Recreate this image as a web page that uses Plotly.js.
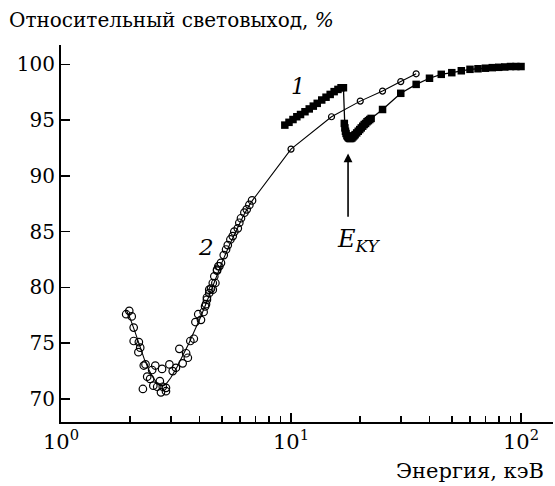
<!DOCTYPE html>
<html>
<head>
<meta charset="utf-8">
<script src="https://cdn.plot.ly/plotly-3.0.1.min.js"></script>
<style>
html,body{margin:0;padding:0;background:#fff;}
#chart{width:555px;height:486px;}
</style>
</head>
<body>
<div id="chart"></div>
<script>
// Series 1: filled squares (energy, keV ; relative light yield, %)
const energy1 = [9.4, 9.8, 10.2, 10.6, 11.0, 11.5, 12.0, 12.5, 13.0, 13.6, 14.2, 14.8, 15.4, 16.0, 16.5, 16.9,
  17.05, 17.15, 17.25, 17.35, 17.5, 17.65, 17.8, 18.0, 18.2, 18.4, 18.6, 18.8, 19.0, 19.3, 19.6, 19.9,
  20.2, 20.5, 20.8, 21.1, 21.4, 21.7, 22.0, 22.3, 25, 30, 35, 40, 45, 50, 55, 60, 65, 70, 75, 80, 85, 90, 95, 100];
const yield1 = [94.55, 94.8, 95.05, 95.3, 95.5, 95.75, 96.0, 96.25, 96.5, 96.8, 97.05, 97.3, 97.55, 97.75, 97.9, 97.9,
  94.7, 94.3, 94.0, 93.8, 93.6, 93.5, 93.4, 93.35, 93.35, 93.4, 93.5, 93.6, 93.7, 93.85, 94.0, 94.15,
  94.3, 94.45, 94.6, 94.7, 94.85, 94.95, 95.05, 95.15, 95.95, 97.4, 98.2, 98.75, 99.1, 99.25, 99.42, 99.55, 99.6, 99.65, 99.7, 99.73, 99.76, 99.8, 99.8, 99.8];

// Series 2: open circles, low-energy scattered measurements
const energy2 = [1.92, 1.98, 2.03, 2.07, 2.07, 2.18, 2.21, 2.17, 2.29, 2.33, 2.49, 2.57, 2.37, 2.44, 2.27, 2.52, 2.62, 2.69, 2.75, 2.77, 2.72, 2.86, 2.86,
  2.96, 3.06, 3.16, 3.27, 3.38, 3.50, 3.56, 3.65, 3.78, 3.84, 3.95, 4.06, 4.17, 4.27, 4.31, 4.41, 4.57, 4.69, 4.77, 4.88, 4.96,
  4.23, 4.31, 4.41, 4.49, 4.57, 4.64, 4.77, 4.83, 5.10, 5.22, 5.31, 5.45, 5.58, 5.67, 5.87, 5.96, 6.06, 6.27, 6.42, 6.59, 6.77];
const yield2 = [77.6, 77.9, 77.4, 76.4, 75.2, 75.1, 74.6, 74.2, 73.0, 73.1, 72.6, 73.0, 72.0, 71.8, 70.9, 71.2, 71.1, 71.6, 72.7, 71.1, 70.6, 71.0, 70.7,
  73.1, 72.5, 72.8, 74.5, 73.2, 74.1, 73.7, 75.2, 75.4, 76.9, 77.6, 77.1, 77.8, 78.5, 79.1, 79.8, 79.8, 80.4, 81.5, 81.9, 82.2,
  78.3, 78.9, 79.5, 79.9, 80.4, 81.0, 81.6, 81.9, 82.9, 83.4, 83.8, 84.3, 84.6, 85.0, 85.3, 85.8, 86.2, 86.7, 87.0, 87.4, 87.8];

// Series 2: open circles at higher energies
const energy2b = [10, 15, 20, 25, 30, 35];
const yield2b = [92.4, 95.3, 96.7, 97.6, 98.45, 99.15];

// Series 2: smooth guide curve through the low-energy data
const curveE = [1.92, 2.0, 2.1, 2.2, 2.3, 2.4, 2.5, 2.6, 2.7, 2.8, 2.9, 3.0, 3.2, 3.4, 3.6, 3.8, 4.0, 4.3, 4.6, 5.0, 5.4, 5.8, 6.2, 6.6, 6.8];
const curveV = [78.0, 77.2, 76.0, 74.7, 73.6, 72.7, 72.0, 71.5, 71.2, 71.2, 71.5, 71.9, 72.9, 74.0, 75.0, 76.1, 77.1, 78.7, 80.3, 82.2, 83.8, 85.2, 86.4, 87.4, 87.8];

const xTickVals = [1, 10, 100];
const xTickText = ['10<sup>0</sup>', '10<sup>1</sup>', '10<sup>2</sup>'];
const xMinorVals = [2, 3, 4, 5, 6, 7, 8, 9, 20, 30, 40, 50, 60, 70, 80, 90];

const serif = 'DejaVu Serif';

const traces = [
  {x: curveE.concat(energy2b), y: curveV.concat(yield2b), mode: 'lines', type: 'scatter',
   line: {color: 'black', width: 1.1}, hoverinfo: 'skip'},
  {x: energy2, y: yield2, mode: 'markers', type: 'scatter',
   marker: {symbol: 'circle-open', size: 7.5, color: 'black', line: {width: 1.2, color: 'black'}}},
  {x: energy2b, y: yield2b, mode: 'markers', type: 'scatter',
   marker: {symbol: 'circle-open', size: 6, color: 'black', line: {width: 1.2, color: 'black'}}},
  {x: energy1, y: yield1, mode: 'lines+markers', type: 'scatter',
   line: {color: 'black', width: 1.3},
   marker: {symbol: 'square', size: 7.5, color: 'black'}}
];

const layout = {
  width: 555, height: 486,
  margin: {l: 61, r: 2, t: 45, b: 64},
  paper_bgcolor: 'white', plot_bgcolor: 'white',
  showlegend: false,
  font: {family: serif, size: 20, color: 'black'},
  xaxis: {
    type: 'log', range: [0, 2.139],
    showline: true, linecolor: 'black', linewidth: 2,
    showgrid: false, zeroline: false,
    tickmode: 'array', tickvals: xTickVals, ticktext: xTickText,
    ticks: 'inside', ticklen: 9, tickwidth: 1.6, tickcolor: 'black',
    minor: {tickmode: 'array', tickvals: xMinorVals, ticks: 'inside', ticklen: 6, tickwidth: 1.6, tickcolor: 'black', showgrid: false},
    tickfont: {family: serif, size: 21, color: 'black'}
  },
  yaxis: {
    range: [67.94, 101.73],
    showline: true, linecolor: 'black', linewidth: 2,
    showgrid: false, zeroline: false,
    tickmode: 'linear', tick0: 70, dtick: 5,
    ticks: 'inside', ticklen: 9, tickwidth: 1.6, tickcolor: 'black',
    tickfont: {family: serif, size: 20, color: 'black'}
  },
  annotations: [
    {xref: 'paper', yref: 'paper', x: -0.11, y: 1.066, xanchor: 'left', yanchor: 'middle',
     text: 'Относительный световыход, <i>%</i>', showarrow: false,
     font: {family: serif, size: 20, color: 'black'}},
    {xref: 'paper', yref: 'paper', x: 0.985, y: -0.13, xanchor: 'right', yanchor: 'middle',
     text: 'Энергия, кэВ', showarrow: false,
     font: {family: serif, size: 21, color: 'black'}},
    {x: Math.log10(10.7), y: 98.0, xref: 'x', yref: 'y', text: '<i>1</i>', showarrow: false,
     font: {family: serif, size: 22, color: 'black'}},
    {x: Math.log10(4.27), y: 83.6, xref: 'x', yref: 'y', text: '<i>2</i>', showarrow: false,
     font: {family: serif, size: 23, color: 'black'}},
    {x: Math.log10(15.5), y: 84.2, xref: 'x', yref: 'y', xanchor: 'left', yanchor: 'middle',
     text: '<i>E</i><sub><i>KY</i></sub>', showarrow: false,
     font: {family: serif, size: 24, color: 'black'}},
    {x: Math.log10(17.7), y: 92.0, xref: 'x', yref: 'y', axref: 'x', ayref: 'y',
     ax: Math.log10(17.7), ay: 86.2, text: '', showarrow: true,
     arrowhead: 2, arrowsize: 1.1, arrowwidth: 1.6, arrowcolor: 'black', standoff: 0}
  ]
};

Plotly.newPlot('chart', traces, layout, {staticPlot: true, displayModeBar: false});
</script>
</body>
</html>
